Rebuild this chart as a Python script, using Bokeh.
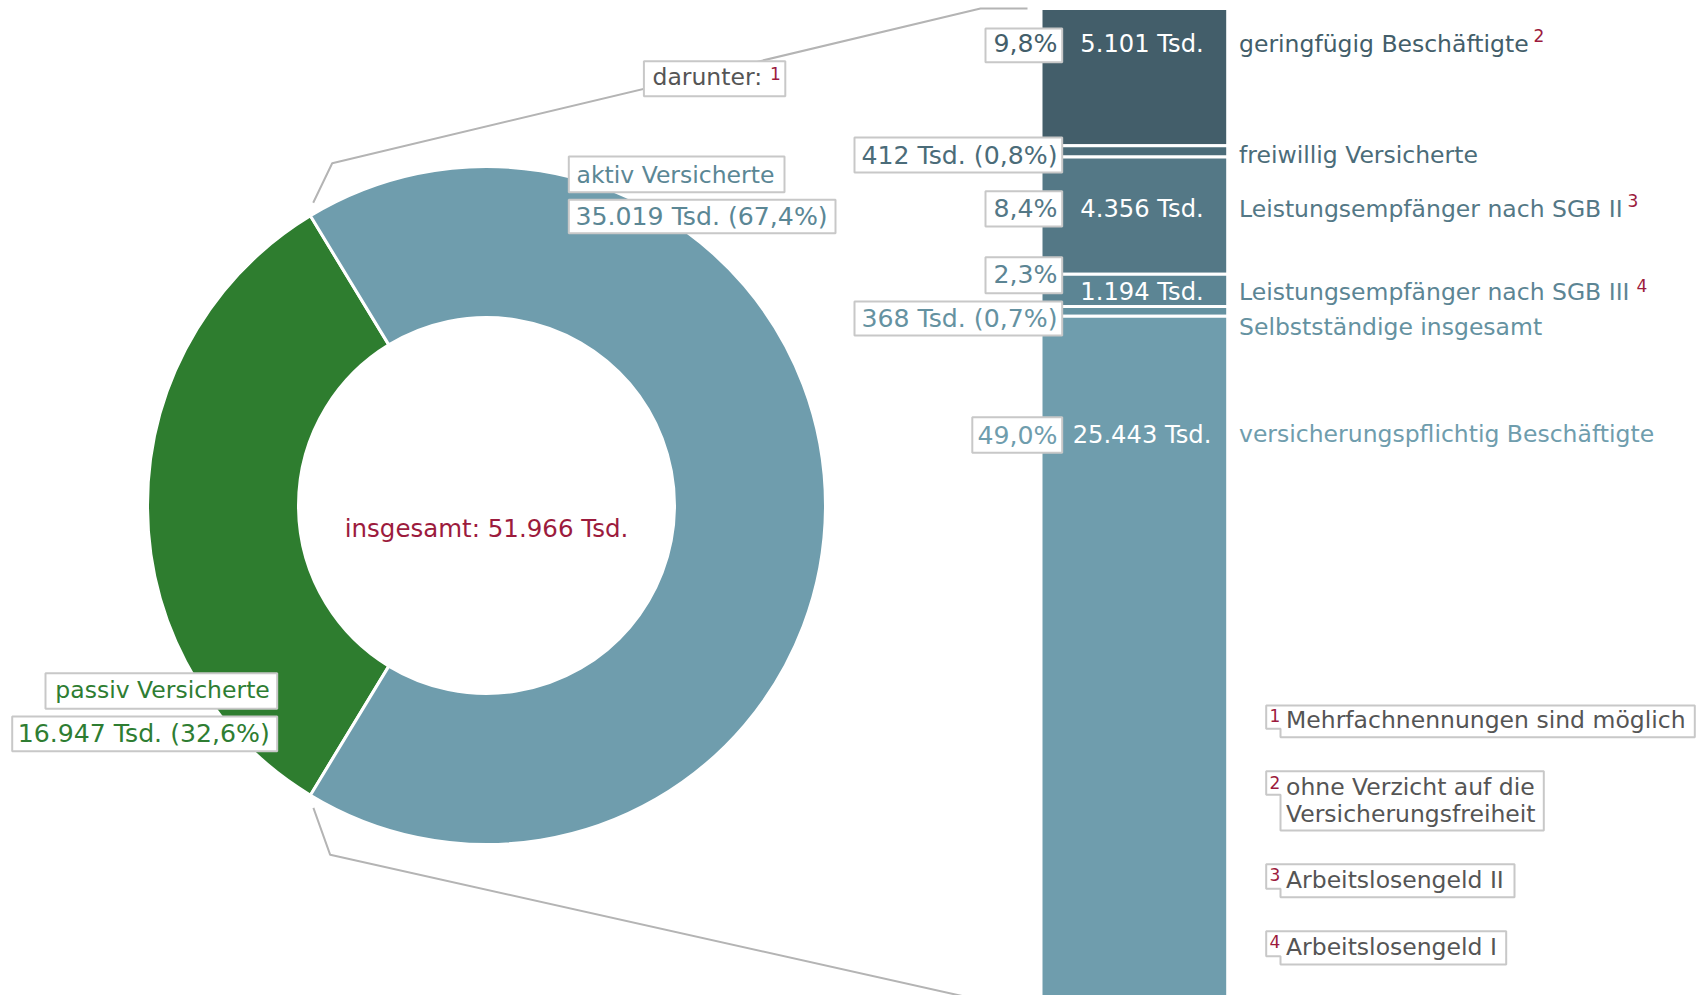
import math
from bokeh.plotting import figure
from bokeh.models import Range1d
from bokeh.core.properties import value
from bokeh.embed import file_html
from bokeh.resources import INLINE

# ---------------- data ----------------
donut_labels = ["passiv Versicherte", "aktiv Versicherte"]
donut_values = [16947, 35019]
donut_colors = ["#2e7d2f", "#6f9dad"]
total_text = "insgesamt"
darunter_text = "darunter:"

bar_labels = ["geringfügig Beschäftigte", "freiwillig Versicherte",
              "Leistungsempfänger nach SGB II", "Leistungsempfänger nach SGB III",
              "Selbstständige insgesamt", "versicherungspflichtig Beschäftigte"]
bar_values = [5101, 412, 4356, 1194, 368, 25443]
bar_notes = ["2", "", "3", "4", "", ""]
bar_colors = ["#435e6a", "#4b6c79", "#547886", "#5c8594", "#6592a1", "#6f9dad"]

footnote_marks = ["1", "2", "3", "4"]
footnote_texts = [["Mehrfachnennungen sind möglich"],
                  ["ohne Verzicht auf die", "Versicherungsfreiheit"],
                  ["Arbeitslosengeld II"],
                  ["Arbeitslosengeld I"]]

# ---------------- helpers ----------------
FONT = "DejaVu Sans"
FS = "23.5px"
FS_PCT = "25.2px"
FS_TSD = "24.2px"
FS_SUP = "17px"
RED = "#9c1b3d"
GRAY_TXT = "#555555"
BOX_LINE = "#c8c8c8"
CONN = "#b4b4b4"
TXT_DY = -8.5   # compensation for SVG text baseline placement


def de_int(v):
    return f"{v:,}".replace(",", ".")


def de_pct(v, tot):
    return f"{100.0 * v / tot:.1f}".replace(".", ",") + "%"


def Y(y):
    return 1001 - y


W, H = 1697, 995
p = figure(width=W, height=H, x_range=Range1d(0, W), y_range=Range1d(1001 - H, 1001),
           output_backend="svg", toolbar_location=None, min_border=0,
           x_axis_location=None, y_axis_location=None)
p.xgrid.visible = False
p.ygrid.visible = False
p.outline_line_color = None
p.background_fill_color = "white"
p.border_fill_color = "white"


def txt(x, y, s, color, align="left", size=FS):
    p.text(x=[x], y=[Y(y + TXT_DY)], text=[s], text_color=color, text_align=align,
           text_baseline="alphabetic", text_font=value(FONT), text_font_size=size)


def box(x0, y0, x1, y1):
    p.quad(left=[x0], right=[x1], top=[Y(y0)], bottom=[Y(y1)], fill_color="white",
           line_color=BOX_LINE, line_width=2)


def notch_box(x0, y0, x1, y1, nx, ny):
    xs = [x0, x1, x1, nx, nx, x0]
    ys = [Y(y0), Y(y0), Y(y1), Y(y1), Y(ny), Y(ny)]
    p.patch(xs, ys, fill_color="white", line_color=BOX_LINE, line_width=2)


# ---------------- connector lines ----------------
p.line([312.7, 331.7, 980, 1027], [Y(202.3), Y(162.7), Y(8), Y(8)], line_color=CONN, line_width=2)
p.line([312.9, 329.7, 978.6, 1026.3], [Y(807.3), Y(854.3), Y(999.3), Y(999.3)], line_color=CONN, line_width=2)

# ---------------- donut ----------------
total = sum(donut_values)
cx, cy = 486, Y(505)
f = donut_values[0] / total
starts = [math.pi - math.pi * f, math.pi + math.pi * f]
ends = [math.pi + math.pi * f, 3 * math.pi - math.pi * f]
p.annular_wedge(x=[cx, cx], y=[cy, cy], inner_radius=188, outer_radius=339,
                start_angle=starts, end_angle=ends, fill_color=donut_colors,
                line_color="white", line_width=3)

txt(486, 536, f"{total_text}: {de_int(total)} Tsd.", RED, align="center", size="24.5px")

# active labels
ACT_TXT = "#5b8795"
box(568.3, 156, 784, 191.7)
txt(576, 183.3, donut_labels[1], ACT_TXT)
box(568.3, 199.3, 835, 232.7)
txt(575, 224, f"{de_int(donut_values[1])} Tsd. ({de_pct(donut_values[1], total)})", ACT_TXT, size=FS_PCT)
# passive labels
PAS_TXT = "#2e7d32"
box(45, 672.7, 276.7, 708.3)
txt(269.3, 698.3, donut_labels[0], PAS_TXT, align="right")
box(11.7, 716, 276.7, 750.7)
txt(269.3, 741.7, f"{de_int(donut_values[0])} Tsd. ({de_pct(donut_values[0], total)})", PAS_TXT,
    align="right", size=FS_PCT)

# darunter
box(643.4, 60.7, 784.8, 95.7)
txt(652, 85, darunter_text, GRAY_TXT)
txt(769.6, 81, footnote_marks[0], RED, size=FS_SUP)

# ---------------- stacked bar ----------------
bar_total = sum(bar_values)
p.extra_y_ranges = {"bar": Range1d(bar_total * (1001 - H) / (1001 - 8), bar_total * 1001 / (1001 - 8))}
tops, bottoms = [], []
run = bar_total
for v in bar_values:
    tops.append(run)
    bottoms.append(run - v)
    run -= v
p.quad(left=1040.5, right=1227.2, top=tops, bottom=bottoms, fill_color=bar_colors,
       line_color="white", line_width=3, y_range_name="bar")

# left boxes + inside values + right labels
inside = [0, 2, 3, 5]
left_boxes = {
    0: (985, 28, 1061.7, 61.7, 51.7),
    1: (854, 137, 1061.7, 172, 163.3),
    2: (985, 190.7, 1061.7, 226, 216.7),
    3: (985, 256.7, 1061.7, 292.7, 282.7),
    4: (854, 301, 1061.7, 335, 326),
    5: (971.8, 416.7, 1061.7, 452.3, 443.3),
}
inside_base = {0: 51.7, 2: 216.7, 3: 300, 5: 443.3}
label_base = [51.7, 163.3, 216.7, 300, 335, 442.3]
sup_pos = {0: (1533, 43.3), 2: (1627, 208.3), 3: (1636, 293)}

for i, v in enumerate(bar_values):
    x0, y0, x1, y1, bl = left_boxes[i]
    box(x0, y0, x1, y1)
    if i in inside:
        txt(1057, bl, de_pct(v, total), bar_colors[i], align="right", size=FS_PCT)
        txt(1141.5, inside_base[i], f"{de_int(v)} Tsd.", "white", align="center", size=FS_TSD)
    else:
        txt(1057, bl, f"{de_int(v)} Tsd. ({de_pct(v, total)})", bar_colors[i], align="right", size=FS_PCT)
    txt(1238.5, label_base[i], bar_labels[i], bar_colors[i])
    if bar_notes[i]:
        sx, sy = sup_pos[i]
        txt(sx, sy, bar_notes[i], RED, size=FS_SUP)

# ---------------- footnotes ----------------
fn_boxes = [
    (1265.7, 705, 1694.3, 736.7, 728.3, [728.3], 723.3),
    (1265.7, 770.7, 1543.3, 830, 794.3, [795, 821.7], 790),
    (1265.7, 863.7, 1514, 896.7, 888.3, [888.3], 882.7),
    (1265.7, 930.7, 1505.7, 964, 955.7, [955], 949.3),
]
for k, (x0, y0, x1, y1, ny, bases, sb) in enumerate(fn_boxes):
    notch_box(x0, y0, x1, y1, 1280, ny)
    txt(1274.3, sb, footnote_marks[k], RED, align="center", size=FS_SUP)
    for line, b in zip(footnote_texts[k], bases):
        txt(1285.5, b, line, GRAY_TXT)

open("out.html", "w").write(file_html(p, INLINE))
